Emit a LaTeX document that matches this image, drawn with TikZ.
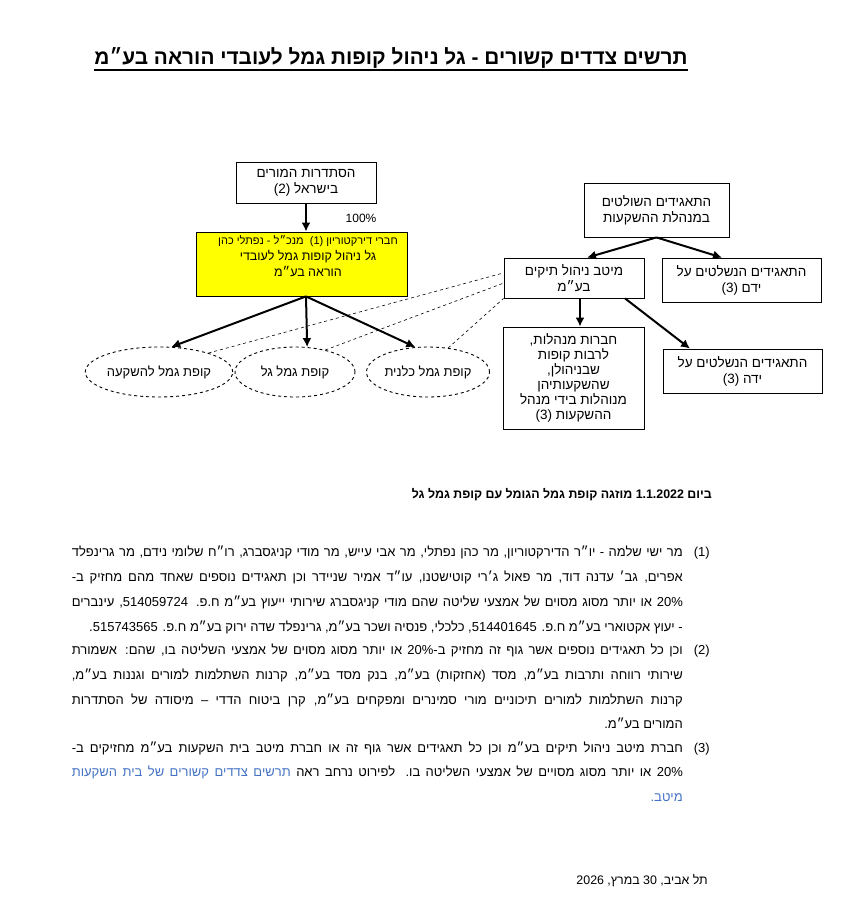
\documentclass[tikz,border=0pt]{standalone}
\usepackage{fontspec}
\setmainfont[Script=Hebrew]{Liberation Sans}
\usetikzlibrary{arrows.meta,shapes.geometric,calc}
\TeXXeTstate=1
\newcommand\RL[1]{\beginR#1\endR}
\newcommand\JL[1]{\hbox to 611pt{\beginR#1\endR}}
\definecolor{linkblue}{HTML}{4472C4}
\definecolor{boxyellow}{HTML}{FFFF00}
\begin{document}
\begin{tikzpicture}[x=1pt,y=-1pt,
  box/.style={draw,line width=0.8pt,inner sep=0pt,align=center,font=\fontsize{13.5}{16}\selectfont},
  oval/.style={ellipse,draw,dashed,line width=0.9pt,inner sep=0pt,minimum height=50pt,font=\fontsize{13}{15}\selectfont},
  arr/.style={line width=2pt,-{Latex[length=9pt,width=9pt]}},
  dline/.style={dashed,line width=0.6pt},
  para/.style={anchor=base east,inner sep=0pt,font=\fontsize{13}{15}\selectfont},
]
\useasboundingbox (0,0) rectangle (842,922);
% title
\node[anchor=base,inner sep=0pt,font=\bfseries\fontsize{20.8}{24}\selectfont] (title) at (391,64)
  {\RL{תרשים צדדים קשורים - גל ניהול קופות גמל לעובדי הוראה בע״מ}};
\draw[line width=1.3pt] ($(title.base west)+(0,6)$) -- ($(title.base east)+(0,6)$);
% left tree
\node[box,minimum width=140pt,minimum height=41pt] (org) at (306,182.5)
  {\RL{הסתדרות המורים}\\\RL{בישראל (2)}};
\node[box,fill=boxyellow,minimum width=211pt,minimum height=64pt] (gal) at (301.5,264) {};
\node[align=center,inner sep=0pt,anchor=north,font=\fontsize{12.5}{15.5}\selectfont] (galtxt) at (308,235)
  {{\fontsize{11}{13}\selectfont\RL{חברי דירקטוריון (1)\ \ מנכ״ל - נפתלי כהן}}\\[1pt]
   \RL{גל ניהול קופות גמל לעובדי}\\\RL{הוראה בע״מ}};
\node[font=\fontsize{12}{14}\selectfont,inner sep=0pt] (pct) at (361,218) {100\%};
\draw[arr] (org.south) -- (org.south |- gal.north);
\coordinate (fan) at (org.south |- gal.south);
\node[oval,minimum width=124pt] (e1) at (159,372) {\RL{קופת גמל להשקעה}};
\node[oval,minimum width=120pt] (e2) at (295,372) {\RL{קופת גמל גל}};
\node[oval,minimum width=120pt] (e3) at (428,372) {\RL{קופת גמל כלנית}};
\draw[arr] (fan) -- (e1.64);
\draw[arr] (fan) -- (e2.64);
\draw[arr] (fan) -- (e3.117);
% right tree
\node[box,minimum width=145pt,minimum height=54pt] (ctrl) at (656.5,210)
  {\RL{התאגידים השולטים}\\\RL{במנהלת ההשקעות}};
\node[box,minimum width=140pt,minimum height=40pt] (meitav) at (574,278)
  {\RL{מיטב ניהול תיקים}\\\RL{בע״מ}};
\node[box,minimum width=159pt,minimum height=44pt] (held1) at (741.5,280)
  {\RL{התאגידים הנשלטים על}\\\RL{ידם (3)}};
\node[box,minimum width=141pt,minimum height=102pt,font=\fontsize{13.5}{15}\selectfont] (mgmt) at (573.5,378)
  {\RL{חברות מנהלות,}\\\RL{לרבות קופות}\\\RL{שבניהולן,}\\\RL{שהשקעותיהן}\\\RL{מנוהלות בידי מנהל}\\\RL{ההשקעות (3)}};
\node[box,minimum width=159pt,minimum height=44pt] (held2) at (742.5,371)
  {\RL{התאגידים הנשלטים על}\\\RL{ידה (3)}};
\draw[arr] (ctrl.south) -- ($(meitav.north)+(13,0)$);
\draw[arr] (ctrl.south) -- ($(held1.north)+(-19.5,0)$);
\draw[arr] ($(meitav.south)+(6,0)$) -- ($(mgmt.north)+(6.5,0)$);
\draw[arr] ($(meitav.south)+(51,0)$) -- ($(held2.north)+(-52.5,0)$);
\draw[dline] (e1.21) -- ($(meitav.north west)!0.375!(meitav.south west)$);
\draw[dline] (e2.36) -- ($(meitav.north west)!0.625!(meitav.south west)$);
\draw[dline] (e3.50) -- (meitav.south west);
% text
\node[anchor=base east,inner sep=0pt,font=\bfseries\fontsize{12.4}{14}\selectfont] (merge) at (712,498)
  {\RL{ביום 1.1.2022 מוזגה קופת גמל הגומל עם קופת גמל גל}};
\node[para] (n1) at (710,556) {(1)};
\node[para] (p1a) at (683,556) {\JL{מר ישי שלמה - יו״ר הדירקטוריון, מר כהן נפתלי, מר אבי עייש, מר מודי קניגסברג, רו״ח שלומי נידם, מר גרינפלד}};
\node[para] (p1b) at (683,581) {\JL{אפרים, גב׳ עדנה דוד, מר פאול ג׳רי קוטישטנו, עו״ד אמיר שניידר וכן תאגידים נוספים שאחד מהם מחזיק ב-}};
\node[para] (p1c) at (683,606) {\JL{20\% או יותר מסוג מסוים של אמצעי שליטה שהם מודי קניגסברג שירותי ייעוץ בע״מ ח.פ. 514059724\kern0pt, עינברים}};
\node[para] (p1d) at (683,631) {\RL{- יעוץ אקטוארי בע״מ ח.פ. 514401645\kern0pt, כלכלי, פנסיה ושכר בע״מ, גרינפלד שדה ירוק בע״מ ח.פ. 515743565\kern0pt.}};
\node[para] (n2) at (710,654) {(2)};
\node[para] (p2a) at (683,654) {\JL{וכן כל תאגידים נוספים אשר גוף זה מחזיק ב-20\% או יותר מסוג מסוים של אמצעי השליטה בו, שהם: אשמורת}};
\node[para] (p2b) at (683,679) {\JL{שירותי רווחה ותרבות בע״מ, מסד (אחזקות) בע״מ, בנק מסד בע״מ, קרנות השתלמות למורים וגננות בע״מ,}};
\node[para] (p2c) at (683,704) {\JL{קרנות השתלמות למורים תיכוניים מורי סמינרים ומפקחים בע״מ, קרן ביטוח הדדי – מיסודה של הסתדרות}};
\node[para] (p2d) at (683,728) {\RL{המורים בע״מ.}};
\node[para] (n3) at (710,752) {(3)};
\node[para] (p3a) at (683,752) {\JL{חברת מיטב ניהול תיקים בע״מ וכן כל תאגידים אשר גוף זה או חברת מיטב בית השקעות בע״מ מחזיקים ב-}};
\node[para] (p3b) at (683,776) {\hbox to 611pt{{\color{linkblue}\RL{תרשים צדדים קשורים של בית השקעות}} \RL{20\% או יותר מסוג מסויים של אמצעי השליטה בו. לפירוט נרחב ראה}}};
\node[para,text=linkblue] (p3c) at (683,801) {\RL{מיטב.}};
\node[anchor=base east,inner sep=0pt,font=\fontsize{12.4}{14}\selectfont] (date) at (708,884) {\RL{תל אביב, 30 במרץ, 2026}};
\end{tikzpicture}
\end{document}
